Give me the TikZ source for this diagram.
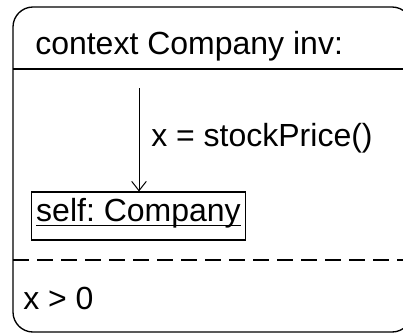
\documentclass[tikz,border=0pt]{standalone}
\usepackage{fontspec}
\setmainfont{Liberation Sans}
\usetikzlibrary{positioning,arrows.meta}
\frenchspacing

% underlined object name, line close under the baseline
\newcommand{\objname}[1]{{\setbox0\hbox{#1}\rlap{\rule[-3.6pt]{\wd0}{1.1pt}}\box0}}

\begin{document}
\begin{tikzpicture}[
        x=0.75pt, y=-0.75pt,
        txt/.style={anchor=west, inner sep=0pt, font=\fontsize{24}{28}\selectfont},
        objbox/.style={rectangle, draw, line width=0.8pt, inner xsep=2pt, inner ysep=0pt, minimum width=161pt, minimum height=36pt, text height=16pt, text depth=8pt, font=\fontsize{24}{28}\selectfont},
        arrow/.style={-{Straight Barb[length=7pt, width=11pt]}, line width=0.75pt}
    ]
    \useasboundingbox (0,0) rectangle (403,333);
    \clip (0,0) rectangle (403,333);

    % Frame of the invariant
    \draw[line width=1pt, rounded corners=15pt] (13,7) rectangle (412,332);

    % Header
    \node[txt] (ctx) at (35,46) {context Company inv:};
    \draw[line width=1pt] (13,69) -- (412,69);

    % Object and navigation
    \node[objbox] (self) at (138.5,216) {\objname{self: Company}};
    \coordinate (src) at (139,88);
    \draw[arrow] (src) -- (self.north -| src);
    \node[txt] (nav) at (151,138) {x = stockPrice()};

    % Condition
    \draw[line width=0.8pt, dash pattern=on 12pt off 6pt] (13,260) -- (412,260);
    \node[txt] (cond) at (23,298) {x > 0};
\end{tikzpicture}
\end{document}
